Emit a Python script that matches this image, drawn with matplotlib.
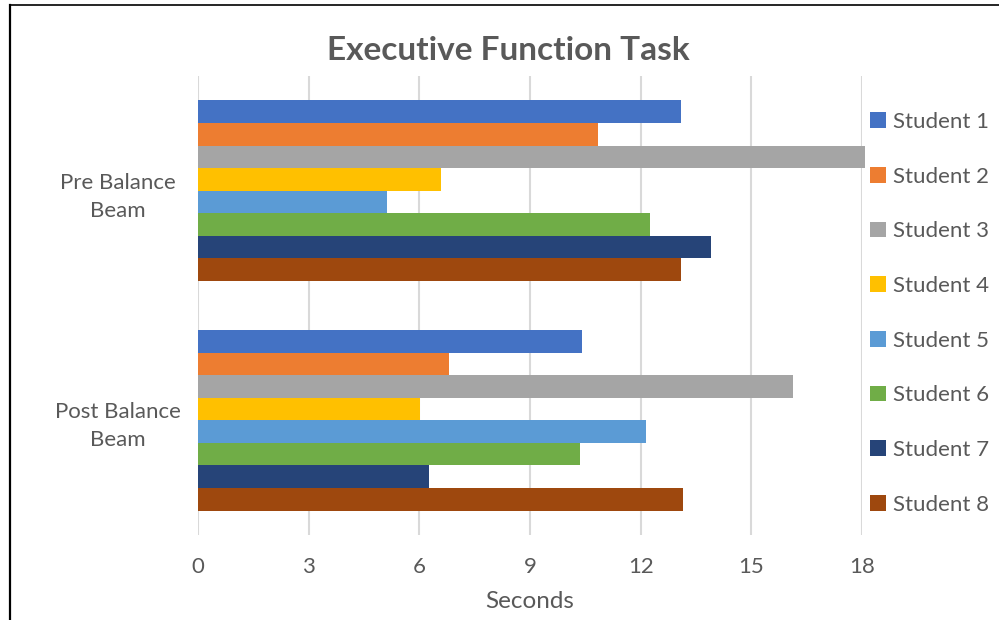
import numpy as np
import matplotlib.pyplot as plt
from matplotlib.lines import Line2D

plt.rcParams['font.family'] = ['Lato', 'DejaVu Sans']

groups = ["Pre Balance\nBeam", "Post Balance\nBeam"]
students = [f"Student {i}" for i in range(1, 9)]
pre = [13.1, 10.85, 18.08, 6.6, 5.13, 12.25, 13.9, 13.1]
post = [10.41, 6.81, 16.13, 6.01, 12.14, 10.36, 6.27, 13.15]
colors = ["#4472C4", "#ED7D31", "#A5A5A5", "#FFC000",
          "#5B9BD5", "#70AD47", "#264478", "#9E480E"]
xticks = [0, 3, 6, 9, 12, 15, 18]

text_col = "#595959"

fig = plt.figure(figsize=(9.99, 6.2), dpi=100)
ax = fig.add_axes([198 / 999, 1 - 535 / 620, 664 / 999, 459 / 620])

bar_h = 0.0984
ypos = np.arange(len(groups))
handles = []
for i, name in enumerate(students):
    vals = [pre[i], post[i]]
    bars = ax.barh(ypos + (i - 3.5) * bar_h, vals, height=bar_h,
                   color=colors[i], edgecolor="none", zorder=3, label=name)
    for b in bars:
        b.set_clip_on(False)
    handles.append(bars)

ax.set_xlim(0, 18)
ax.set_ylim(1.5, -0.5)
ax.set_xticks(xticks)
ax.set_yticks(ypos)
ax.set_yticklabels(groups, ha="center", linespacing=1.5)
ax.tick_params(axis="y", length=0, pad=57.5, labelsize=16, labelcolor=text_col)
ax.tick_params(axis="x", length=0, pad=16, labelsize=16, labelcolor=text_col)
ax.grid(axis="x", color="#D9D9D9", linewidth=1.5, zorder=0)
for s in ax.spines.values():
    s.set_visible(False)

ax.set_xlabel("Seconds", fontsize=17.5, color=text_col, labelpad=10)
fig.text(508 / 999, 1 - 50 / 620, "Executive Function Task", ha="center",
         va="center", fontsize=24, fontweight="bold", color=text_col)

leg = fig.legend(handles, students, loc="upper left",
                 bbox_to_anchor=(870 / 999, 1 - 112 / 620), frameon=False,
                 fontsize=16, labelcolor=text_col, handlelength=0.7,
                 handleheight=0.7, handletextpad=0.35, labelspacing=1.56,
                 borderpad=0, borderaxespad=0)

# chart frame
fig.add_artist(Line2D([10 / 999, 10 / 999], [0, 1 - 5 / 620], color="black",
                      linewidth=1.6, transform=fig.transFigure))
fig.add_artist(Line2D([10 / 999, 1], [1 - 5 / 620, 1 - 5 / 620], color="black",
                      linewidth=1.2, transform=fig.transFigure))

fig.savefig("out.png", dpi=100)
